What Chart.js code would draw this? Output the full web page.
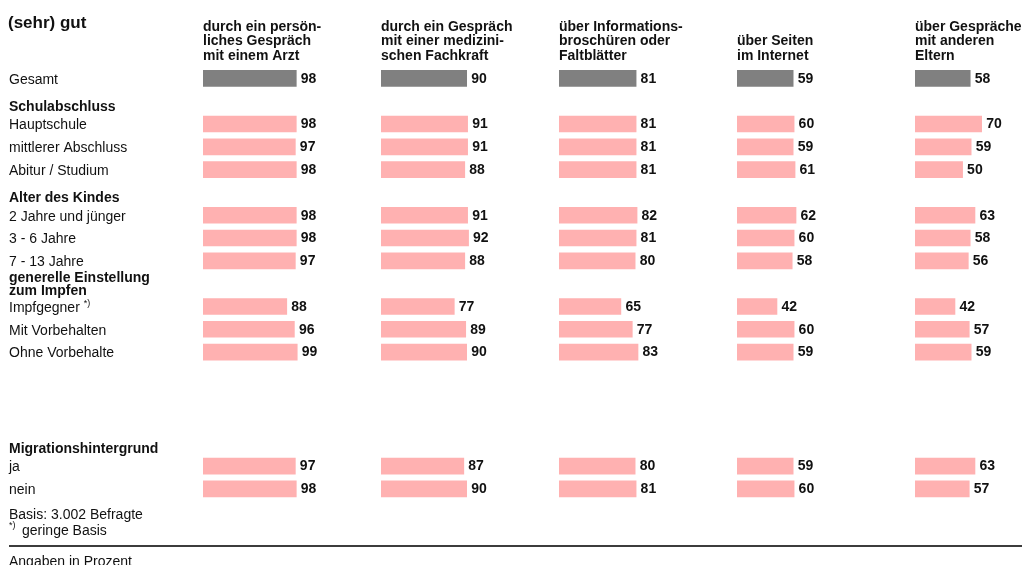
<!DOCTYPE html>
<html lang="de">
<head>
<meta charset="utf-8">
<title>(sehr) gut</title>
<script src="https://cdn.jsdelivr.net/npm/chart.js@4.4.0/dist/chart.umd.min.js"></script>
<style>
  html, body { margin: 0; padding: 0; background: #fff; }
  canvas { display: block; }
</style>
</head>
<body>
<canvas id="chart" width="1022" height="565"></canvas>
<script>
// Row labels, top to bottom. Empty strings are spacer rows.
const rowLabels = [
    "Gesamt",
    "Schulabschluss",
    "Hauptschule",
    "mittlerer Abschluss",
    "Abitur / Studium",
    "Alter des Kindes",
    "2 Jahre und jünger",
    "3 - 6 Jahre",
    "7 - 13 Jahre",
    ["generelle Einstellung", "zum Impfen"],
    "Impfgegner",
    "Mit Vorbehalten",
    "Ohne Vorbehalte",
    "",
    "",
    "",
    "Migrationshintergrund",
    "ja",
    "nein",
];
const headerRows = [1, 5, 9, 16];
const footnoteRows = [10]; // Impfgegner *)

const columnTitles = [
    ["durch ein persön-", "liches Gespräch", "mit einem Arzt"],
    ["durch ein Gespräch", "mit einer medizini-", "schen Fachkraft"],
    ["über Informations-", "broschüren oder", "Faltblätter"],
    ["über Seiten", "im Internet"],
    ["über Gespräche", "mit anderen", "Eltern"],
];

// Percent values per column, null where the row is a heading or spacer
const arzt        = [98, null, 98, 97, 98, null, 98, 98, 97, null, 88, 96, 99, null, null, null, null, 97, 98];
const fachkraft   = [90, null, 91, 91, 88, null, 91, 92, 88, null, 77, 89, 90, null, null, null, null, 87, 90];
const broschueren = [81, null, 81, 81, 81, null, 82, 81, 80, null, 65, 77, 83, null, null, null, null, 80, 81];
const internet    = [59, null, 60, 59, 61, null, 62, 60, 58, null, 42, 60, 59, null, null, null, null, 59, 60];
const eltern      = [58, null, 70, 59, 50, null, 63, 58, 56, null, 42, 57, 59, null, null, null, null, 63, 57];

const columns = [arzt, fachkraft, broschueren, internet, eltern];

const FONT = '"Liberation Sans", Arial, sans-serif';
const GRAY = "#808080";
const PINK = "#ffb1b1";
const INK = "#111111";

// each column gets its own x axis, laid side by side; same px per percent everywhere
const colWidths = [178, 178, 178, 178, 107];
const PX_PER_PCT = 0.952;

const scales = {
    y: { type: "category", display: false, offset: true },
};
colWidths.forEach((w, i) => {
    scales["x" + i] = {
        type: "linear",
        display: false,
        position: "bottom",
        stack: "cols",
        stackWeight: w,
        min: 0,
        max: w / PX_PER_PCT,
    };
});

const labelsPlugin = {
    id: "labels",
    afterDatasetsDraw(chart) {
        const ctx = chart.ctx;
        const y = chart.scales.y;
        ctx.save();
        ctx.textBaseline = "middle";
        ctx.textAlign = "left";
        ctx.fillStyle = INK;

        ctx.font = "bold 17px " + FONT;
        ctx.fillText("(sehr) gut", 8, 23.5);

        // column titles, last line on a common baseline
        ctx.font = "bold 14px " + FONT;
        columnTitles.forEach((lines, i) => {
            const left = chart.scales["x" + i].left;
            lines.forEach((t, k) => {
                ctx.fillText(t, left, 56 - (lines.length - 1 - k) * 14.5);
            });
        });

        // row labels
        rowLabels.forEach((label, i) => {
            const py = y.getPixelForValue(i);
            if (Array.isArray(label)) {
                ctx.font = "bold 14px " + FONT;
                ctx.fillText(label[0], 9, py - 6);
                ctx.fillText(label[1], 9, py + 7);
                return;
            }
            if (!label) return;
            if (headerRows.includes(i)) {
                ctx.font = "bold 14px " + FONT;
                ctx.fillText(label, 9, py + 5.5);
            } else {
                ctx.font = "14px " + FONT;
                ctx.fillText(label, 9, py + 1.5);
                if (footnoteRows.includes(i)) {
                    const w = ctx.measureText(label + " ").width;
                    ctx.font = "9px " + FONT;
                    ctx.fillText("*)", 9 + w, py - 2.5);
                }
            }
        });

        // value labels next to the bars
        ctx.font = "bold 14px " + FONT;
        chart.data.datasets.forEach((ds, di) => {
            chart.getDatasetMeta(di).data.forEach((bar, j) => {
                if (ds.data[j] == null) return;
                ctx.fillText(String(ds.data[j]), bar.x + 4.5, bar.y + 0.5);
            });
        });

        // footer
        ctx.font = "14px " + FONT;
        ctx.fillText("Basis: 3.002 Befragte", 9, 515.5);
        ctx.fillText("geringe Basis", 22, 531);
        ctx.font = "9px " + FONT;
        ctx.fillText("*)", 9, 526);

        ctx.strokeStyle = "#3c3c3c";
        ctx.lineWidth = 2;
        ctx.beginPath();
        ctx.moveTo(9, 546);
        ctx.lineTo(1022, 546);
        ctx.stroke();

        ctx.font = "14px " + FONT;
        ctx.fillText("Angaben in Prozent", 9, 562.5);
        ctx.restore();
    },
};

new Chart(document.getElementById("chart"), {
    type: "bar",
    data: {
        labels: rowLabels,
        datasets: columns.map((data, i) => ({
            label: columnTitles[i].join(" "),
            data,
            xAxisID: "x" + i,
            yAxisID: "y",
            grouped: false,
            barThickness: 16,
            borderWidth: 0,
            backgroundColor: (c) => (c.dataIndex === 0 ? GRAY : PINK),
        })),
    },
    options: {
        indexAxis: "y",
        responsive: false,
        devicePixelRatio: 1,
        animation: false,
        layout: { padding: { left: 203, right: 0, top: 67, bottom: 64.7 } },
        scales,
        plugins: {
            legend: { display: false },
            tooltip: { enabled: false },
        },
    },
    plugins: [labelsPlugin],
});
</script>
</body>
</html>
